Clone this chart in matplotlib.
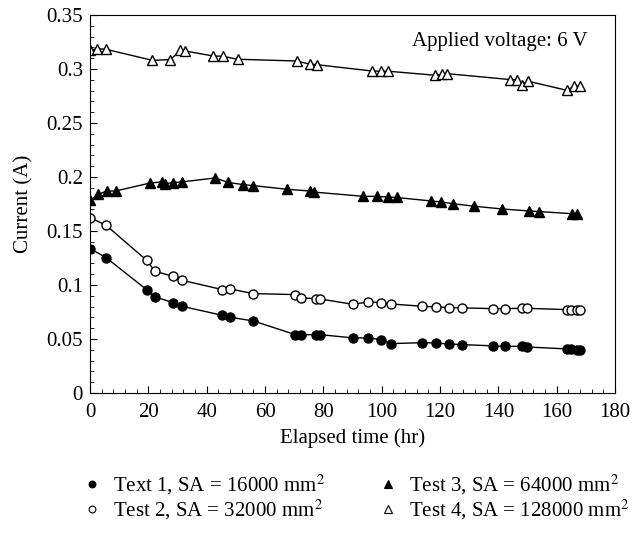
import numpy as np
import matplotlib
matplotlib.use("Agg")
import matplotlib.pyplot as plt
from matplotlib.ticker import MultipleLocator

plt.rcParams['font.family'] = ['Liberation Serif', 'DejaVu Serif']
plt.rcParams['mathtext.fontset'] = 'stix'

# Test 1 (filled circles)
t1 = [0, 5.5, 19.4, 22.3, 28.5, 31.5, 45.4, 48.1, 56, 70.4, 72.3, 77.5, 79,
      90.1, 95.4, 99.8, 103.2, 113.9, 118.5, 123, 127.7, 138.2, 142.4, 148,
      149.7, 163.6, 164.8, 167, 168]
i1 = [0.1337, 0.1254, 0.0957, 0.0889, 0.0837, 0.0803, 0.0719, 0.0701, 0.0667,
      0.054, 0.054, 0.054, 0.054, 0.051, 0.051, 0.0494, 0.0457, 0.0466, 0.0463,
      0.0454, 0.0448, 0.0436, 0.0432, 0.0432, 0.0426, 0.0408, 0.0406, 0.0402,
      0.0402]

# Test 2 (open circles)
t2 = [0, 5.5, 19.4, 22.3, 28.5, 31.5, 45.4, 48.1, 56, 70.4, 72.3, 77.5, 79,
      90.1, 95.4, 99.8, 103.2, 113.9, 118.5, 123, 127.7, 138.2, 142.4, 148,
      149.7, 163.6, 164.8, 167, 168]
i2 = [0.1624, 0.1553, 0.1229, 0.1127, 0.108, 0.1044, 0.0957, 0.0963, 0.092,
      0.0911, 0.088, 0.0874, 0.087, 0.0821, 0.0843, 0.0837, 0.0824, 0.0803,
      0.0797, 0.0791, 0.0788, 0.0781, 0.0781, 0.0784, 0.0784, 0.0772, 0.0772,
      0.0772, 0.0772]

# Test 3 (filled triangles)
t3 = [0, 2.9, 5.7, 8.8, 20.6, 24.6, 25.7, 28.6, 31.4, 43.0, 47.3, 52.3, 56,
      67.6, 75.4, 76.8, 93.7, 98.3, 102.3, 105.1, 116.9, 120.2, 124.3, 131.8,
      141.2, 150.6, 153.8, 165.3, 167]
i3 = [0.1784, 0.184, 0.187, 0.187, 0.1944, 0.1954, 0.1939, 0.1948, 0.1954,
      0.1991, 0.195, 0.193, 0.192, 0.1886, 0.187, 0.186, 0.1821, 0.182, 0.1815,
      0.181, 0.1778, 0.1769, 0.1753, 0.1729, 0.1704, 0.1685, 0.168, 0.166,
      0.166]

# Test 4 (open triangles)
t4 = [0, 2.5, 5.5, 21.4, 27.6, 31, 32.5, 42.3, 45.5, 50.6, 70.9, 75.4, 77.7,
      96.8, 99.8, 102.3, 118.3, 120.6, 122.3, 144, 146.3, 148, 150.3, 163.4,
      166, 168]
i4 = [0.3173, 0.3189, 0.3182, 0.308, 0.3087, 0.3173, 0.3167, 0.312, 0.3118,
      0.309, 0.3074, 0.3044, 0.304, 0.2981, 0.2979, 0.2979, 0.2942, 0.2951,
      0.2957, 0.2902, 0.29, 0.2855, 0.2886, 0.2803, 0.284, 0.284]

labels = ['Text 1, SA = 16000 mm$^2$', 'Test 2, SA = 32000 mm$^2$',
          'Test 3, SA = 64000 mm$^2$', 'Test 4, SA = 128000 mm$^2$']
ytick_labels = ['0', '0.05', '0.1', '0.15', '0.2', '0.25', '0.3', '0.35']

fs = 15

fig = plt.figure(figsize=(6.4, 5.33), dpi=100)
ax = fig.add_axes([0.1406, 0.2627, 0.8204, 0.7092])

series = [(t1, i1, 'o', 'black', 6.5),
          (t2, i2, 'o', 'white', 6.5),
          (t3, i3, '^', 'black', 7),
          (t4, i4, '^', 'white', 7)]
handles = []
for (t, c, m, fc, ms), lab in zip(series, labels):
    ax.plot(t, c, color='black', lw=1, zorder=1)
    ax.plot(t, c, linestyle='none', marker=m, markersize=ms,
            markerfacecolor=fc, markeredgecolor='black', markeredgewidth=1,
            zorder=2)
    h, = ax.plot([], [], linestyle='none', marker=m, markersize=ms * 0.75,
                 markerfacecolor=fc, markeredgecolor='black',
                 markeredgewidth=0.8, label=lab)
    handles.append(h)

ax.set_xlim(0, 180)
ax.set_ylim(0, 0.35)
ax.xaxis.set_major_locator(MultipleLocator(20))
ax.xaxis.set_minor_locator(MultipleLocator(4))
ax.yaxis.set_minor_locator(MultipleLocator(0.01))
ax.set_yticks(np.arange(0, 0.351, 0.05))
ax.set_yticklabels(ytick_labels)
ax.tick_params(which='both', direction='in', top=False, right=False,
               labelsize=fs)
ax.tick_params(axis='x', which='major', pad=7)
ax.tick_params(axis='y', which='major', pad=5)
ax.tick_params(which='major', length=5)
ax.tick_params(which='minor', length=3)
ax.set_xlabel('Elapsed time (hr)', fontsize=fs, labelpad=5)
ax.set_ylabel('Current (A)', fontsize=fs, labelpad=9)

ax.text(0.947, 0.955, 'Applied voltage: 6 V', transform=ax.transAxes,
        ha='right', va='top', fontsize=fs)

fig.legend(handles=handles, loc='upper left', ncol=2, frameon=False,
           fontsize=fs, bbox_to_anchor=(0.124, 0.113), borderaxespad=0,
           borderpad=0, handletextpad=0.42, columnspacing=2.4,
           labelspacing=0.05, handlelength=1.2)

fig.savefig('out.png', dpi=100)
